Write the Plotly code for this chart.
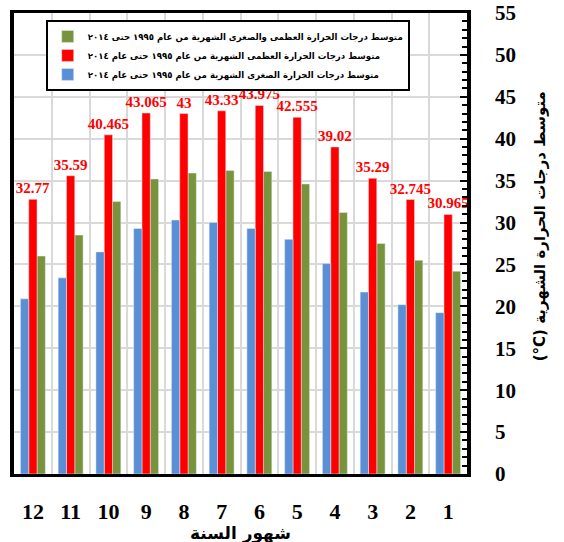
import plotly.graph_objects as go

months = ["1", "2", "3", "4", "5", "6", "7", "8", "9", "10", "11", "12"]
tmax = [30.965, 32.745, 35.29, 39.02, 42.555, 43.975, 43.33, 43.0, 43.065, 40.465, 35.59, 32.77]
tmin = [19.25, 20.2, 21.7, 25.1, 28.0, 29.3, 30.0, 30.3, 29.3, 26.5, 23.4, 20.9]
tavg = [24.2, 25.5, 27.5, 31.2, 34.6, 36.1, 36.2, 35.9, 35.2, 32.5, 28.5, 26.0]
max_labels = ["30.965", "32.745", "35.29", "39.02", "42.555", "43.975", "43.33", "43", "43.065", "40.465", "35.59", "32.77"]

name_avg = "متوسط درجات الحرارة العظمى والصغرى الشهرية من عام ١٩٩٥ حتى ٢٠١٤"
name_max = "متوسط درجات الحرارة العظمى الشهرية من عام ١٩٩٥ حتى عام ٢٠١٤"
name_min = "متوسط درجات الحرارة الصغرى الشهرية من عام ١٩٩٥ حتى عام ٢٠١٤"
y_title = "(°C) متوسط درجات الحرارة الشهرية"
x_title = "شهور السنة"

serif = "Liberation Serif"
arab = "DejaVu Sans"

fig = go.Figure()
fig.add_trace(go.Bar(x=months, y=tavg, name=name_avg, marker_color="#77933c"))
fig.add_trace(go.Bar(x=months, y=tmax, name=name_max, marker_color="#ff0000",
                     text=max_labels, textposition="outside", cliponaxis=False,
                     constraintext="none",
                     textfont=dict(family=serif, size=15, color="#ff0000", weight="bold")))
fig.add_trace(go.Bar(x=months, y=tmin, name=name_min, marker_color="#5a8fd6"))

fig.update_layout(
    width=564, height=542,
    margin=dict(l=14, r=97, t=13, b=68, autoexpand=False),
    paper_bgcolor="white", plot_bgcolor="white",
    barmode="group", bargap=0.34, bargroupgap=0,
    showlegend=True,
    legend=dict(x=0.07, y=0.985, xanchor="left", yanchor="top",
                bgcolor="white", bordercolor="black", borderwidth=2,
                font=dict(family=arab, size=8.6, color="black", weight="bold"),
                traceorder="normal", itemwidth=30, tracegroupgap=0),
    font=dict(family=serif, color="black"),
    annotations=[
        dict(text=y_title, xref="paper", yref="paper", x=1.163, y=0.537,
             xanchor="center", yanchor="middle", textangle=-90, showarrow=False,
             font=dict(family=arab, size=15, color="black", weight="bold")),
        dict(text=x_title, xref="paper", yref="paper", x=0.5, y=-0.128,
             xanchor="center", yanchor="middle", showarrow=False,
             font=dict(family=arab, size=17, color="black", weight="bold")),
    ],
)
fig.update_xaxes(
    type="category", categoryorder="array", categoryarray=months,
    autorange="reversed", automargin=False, tickangle=0,
    showline=True, mirror=True, linecolor="black", linewidth=3,
    showgrid=True, gridcolor="#d9d9d9", gridwidth=1.5, tickson="boundaries",
    ticks="", ticklabelstandoff=16,
    tickfont=dict(family=serif, size=22, color="black", weight="bold"),
)
fig.update_yaxes(
    side="right", range=[0, 55], dtick=5, tick0=0, automargin=False,
    showline=True, mirror=True, linecolor="black", linewidth=3.5,
    showgrid=True, gridcolor="#d9d9d9", gridwidth=1.5, zeroline=False,
    ticks="inside", ticklen=7, tickcolor="black", tickwidth=1.5,
    minor=dict(dtick=1, ticks="inside", ticklen=5, tickcolor="black", tickwidth=1.5, showgrid=False),
    ticklabelstandoff=20,
    tickfont=dict(family=serif, size=21, color="black", weight="bold"),
)

fig.write_html("out.html", config={"displayModeBar": False},
               post_script="document.body.style.margin='0';")
